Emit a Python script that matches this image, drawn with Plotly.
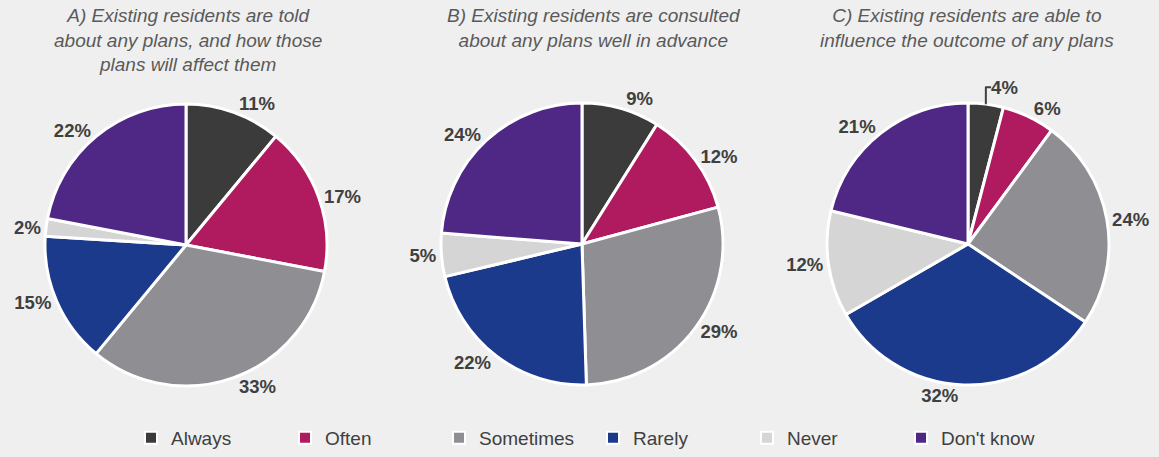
import plotly.graph_objects as go

categories = ["Always", "Often", "Sometimes", "Rarely", "Never", "Don't know"]
values_a = [11, 17, 33, 15, 2, 22]
values_b = [9, 12, 29, 22, 5, 24]
values_c = [4, 6, 24, 32, 12, 21]
titles = [
    "A) Existing residents are told<br>about any plans, and how those<br>plans will affect them",
    "B) Existing residents are consulted<br>about any plans well in advance",
    "C) Existing residents are able to<br>influence the outcome of any plans",
]
colors = ["#3b3b3b", "#b01a5f", "#8e8e93", "#1b3a8b", "#d5d5d5", "#4e2884"]

W, H = 1159, 457
centers = [(186, 245), (582, 244), (968, 244)]
R = 141

fig = go.Figure()
for i, vals in enumerate([values_a, values_b, values_c]):
    cx, cy = centers[i]
    fig.add_trace(go.Pie(
        labels=categories,
        values=vals,
        sort=False,
        direction="clockwise",
        rotation=0,
        marker=dict(colors=colors, line=dict(color="white", width=3)),
        textposition="outside",
        texttemplate="%{value}%",
        textfont=dict(family="Liberation Sans, Arial", size=18.5, color="#404040", weight="bold"),
        showlegend=(i == 0),
        automargin=False,
        hoverinfo="label+value",
        domain=dict(x=[(cx - R) / W, (cx + R) / W], y=[1 - (cy + R) / H, 1 - (cy - R) / H]),
    ))

ann = []
title_x = [188, 594, 967]
for i, t in enumerate(titles):
    ann.append(dict(
        text="<i>" + t + "</i>", x=title_x[i] / W, y=1 - 3 / H, xref="paper", yref="paper",
        xanchor="center", yanchor="top", showarrow=False,
        font=dict(family="Liberation Sans, Arial", size=19, color="#5a5a5a"),
    ))

fig.update_layout(
    width=W, height=H,
    margin=dict(l=0, r=0, t=0, b=0),
    paper_bgcolor="#efefef",
    plot_bgcolor="#efefef",
    annotations=ann,
    legend=dict(
        orientation="h", x=131 / W, y=0, xanchor="left", yanchor="bottom",
        font=dict(family="Liberation Sans, Arial", size=19, color="#404040"),
        entrywidth=109, itemsizing="constant", traceorder="normal",
        tracegroupgap=0, borderwidth=0,
    ),
)

fig.write_html("out.html", config={"displayModeBar": False},
               post_script="document.body.style.margin='0';")
